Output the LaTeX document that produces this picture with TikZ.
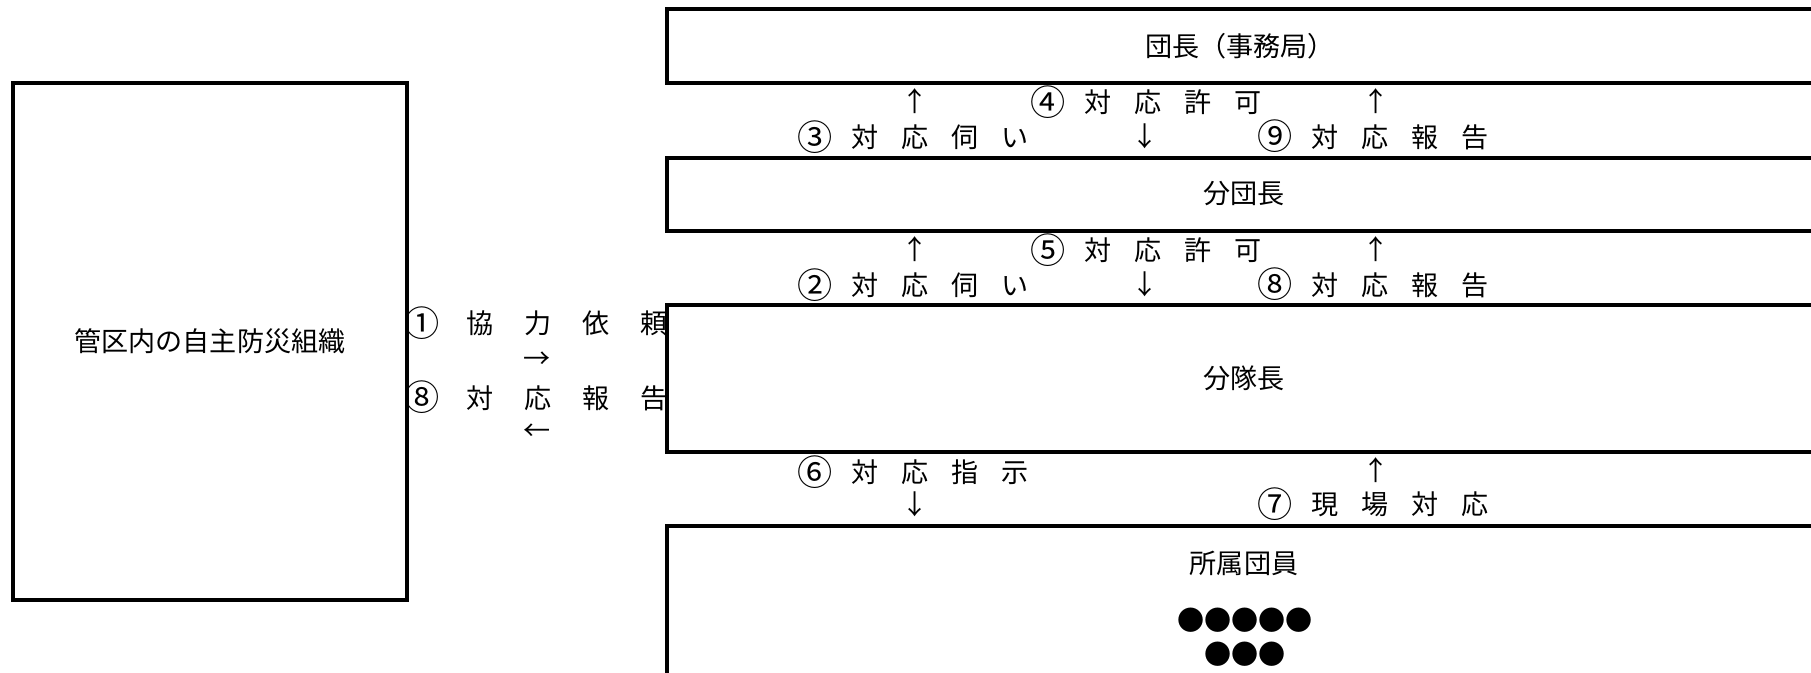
\documentclass[tikz,border=0pt]{standalone}
\usepackage{fontspec}
\setmainfont{Noto Sans CJK JP}
\usepackage{tikz}
\usepackage{xcolor}

% one spaced character of a label
\newcommand{\ch}[1]{\makebox[14.2pt]{#1}}
\newcommand{\chw}[1]{\makebox[16.5pt]{#1}}
% circled step number
\newcommand{\cn}[1]{\smash{\raisebox{-0.8pt}{\fontsize{10pt}{10pt}\selectfont #1}}}

\begin{document}
\begin{tikzpicture}[x=0.01cm,y=-0.01cm,line width=1pt,
  every node/.style={font=\fontsize{7.7pt}{9pt}\selectfont,inner sep=0pt}]
\useasboundingbox (0,0) rectangle (1811,673);
% left
\draw (13,83) rectangle (407,600);
\node (org) at (210,341) {管区内の自主防災組織};
\node (c1) at (538,323) {\chw{\cn{①}}\chw{協}\chw{力}\chw{依}\chw{頼}};
\node (rt) at (537,360) {→};
\node (c8) at (538,398) {\chw{\cn{⑧}}\chw{対}\chw{応}\chw{報}\chw{告}};
\node (lt) at (537,432) {←};
% right column
\draw (667,9) rectangle (1830,83);
\node (dancho) at (1240,46) {団長（事務局）};
\node (u3) at (915,101) {↑};
\node (q4) at (1148,102) {\ch{\cn{④}}\ch{対}\ch{応}\ch{許}\ch{可}};
\node (u9) at (1376,101) {↑};
\node (q3) at (915,137) {\ch{\cn{③}}\ch{対}\ch{応}\ch{伺}\ch{い}};
\node (d4) at (1145,136) {↓};
\node (r9) at (1375,137) {\ch{\cn{⑨}}\ch{対}\ch{応}\ch{報}\ch{告}};
\draw (667,158) rectangle (1830,231);
\node (bundan) at (1244,194) {分団長};
\node (u2) at (915,249) {↑};
\node (q5) at (1148,250) {\ch{\cn{⑤}}\ch{対}\ch{応}\ch{許}\ch{可}};
\node (u8) at (1376,249) {↑};
\node (q2) at (915,285) {\ch{\cn{②}}\ch{対}\ch{応}\ch{伺}\ch{い}};
\node (d5) at (1145,284) {↓};
\node (r8) at (1375,285) {\ch{\cn{⑧}}\ch{対}\ch{応}\ch{報}\ch{告}};
\draw (667,305) rectangle (1830,452);
\node (buntai) at (1244,378) {分隊長};
\node (i6) at (915,472) {\ch{\cn{⑥}}\ch{対}\ch{応}\ch{指}\ch{示}};
\node (u7) at (1376,470) {↑};
\node (d6) at (915,504) {↓};
\node (s7) at (1375,504) {\ch{\cn{⑦}}\ch{現}\ch{場}\ch{対}\ch{応}};
\draw (667,526) rectangle (1830,720);
\node (dan_in) at (1244,563) {所属団員};
\node (m1) at (1245,620) {●●●●●};
\node (m2) at (1245,654) {●●●};
\end{tikzpicture}
\end{document}
